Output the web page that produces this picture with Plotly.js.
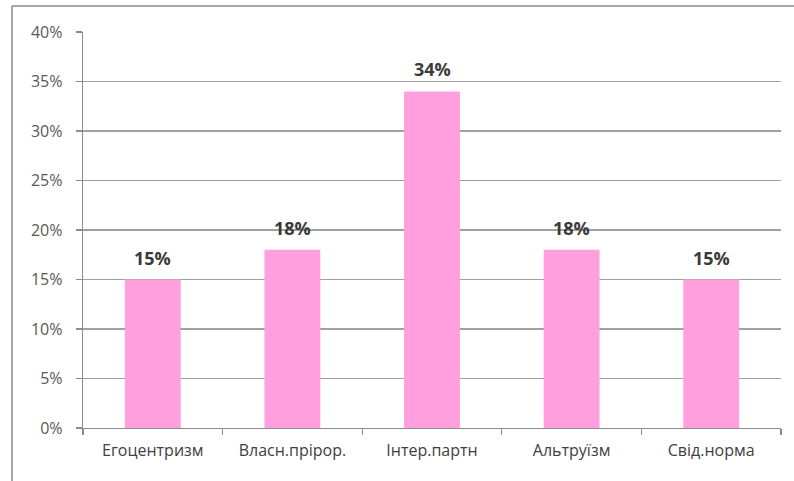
<!DOCTYPE html>
<html>
<head>
<meta charset="utf-8">
<script src="https://cdn.plot.ly/plotly-3.0.1.min.js"></script>
<style>html,body{margin:0;padding:0;background:#fff;}#chart{width:794px;height:481px;}</style>
</head>
<body>
<div id="chart"></div>
<script>
const categories = ["Егоцентризм", "Власн.прірор.", "Інтер.партн", "Альтруїзм", "Свід.норма"];
const values = [0.15, 0.18, 0.34, 0.18, 0.15];
const labels = ["15%", "18%", "34%", "18%", "15%"];
const yTickVals = [0, 0.05, 0.10, 0.15, 0.20, 0.25, 0.30, 0.35, 0.40];
const yTickText = ["0%", "5%", "10%", "15%", "20%", "25%", "30%", "35%", "40%"];

const W = 794, H = 481;
const m = {l: 83, r: 13, t: 32, b: 53};
const pw = W - m.l - m.r, ph = H - m.t - m.b;
const px = x => (x - m.l) / pw;
const py = y => (H - m.b - y) / ph;

const font = "'Open Sans', 'Noto Sans', sans-serif";

const trace = {
  type: 'bar',
  x: categories,
  y: values,
  marker: {color: '#FF9FDD', line: {width: 0}},
  hoverinfo: 'none'
};

const annotations = categories.map((c, i) => ({
  x: c, y: values[i], xref: 'x', yref: 'y',
  text: '<b>' + labels[i] + '</b>',
  showarrow: false, yanchor: 'bottom', yshift: 8,
  font: {family: font, size: 18, color: '#3a3a3a'}
}));

const layout = {
  width: W, height: H,
  margin: m,
  paper_bgcolor: '#fff', plot_bgcolor: '#fff',
  showlegend: false,
  bargap: 0.6,
  xaxis: {
    type: 'category',
    showgrid: false,
    showline: true, linecolor: '#8c8c8c', linewidth: 1.3,
    ticks: 'outside', tickson: 'boundaries', ticklen: 6, tickcolor: '#8c8c8c', tickwidth: 1.3,
    ticklabelstandoff: 7,
    tickfont: {family: font, size: 16, color: '#404040'},
    fixedrange: true
  },
  yaxis: {
    range: [0, 0.4],
    tickvals: yTickVals, ticktext: yTickText,
    showgrid: true, gridcolor: '#a0a0a0', gridwidth: 1.3,
    showline: true, linecolor: '#8c8c8c', linewidth: 1.3,
    ticks: 'outside', ticklen: 6, tickcolor: '#8c8c8c', tickwidth: 1.3,
    ticklabelstandoff: 10,
    tickfont: {family: font, size: 16, color: '#595959'},
    zeroline: false,
    fixedrange: true
  },
  annotations: annotations,
  shapes: [
    {type: 'line', xref: 'paper', yref: 'paper', x0: px(12), x1: px(12), y0: py(6), y1: py(481), line: {color: '#8a8a8a', width: 1.5}},
    {type: 'line', xref: 'paper', yref: 'paper', x0: px(12), x1: px(794), y0: py(6), y1: py(6), line: {color: '#8a8a8a', width: 1.5}}
  ]
};

Plotly.newPlot('chart', [trace], layout, {displayModeBar: false, staticPlot: true});
</script>
</body>
</html>
